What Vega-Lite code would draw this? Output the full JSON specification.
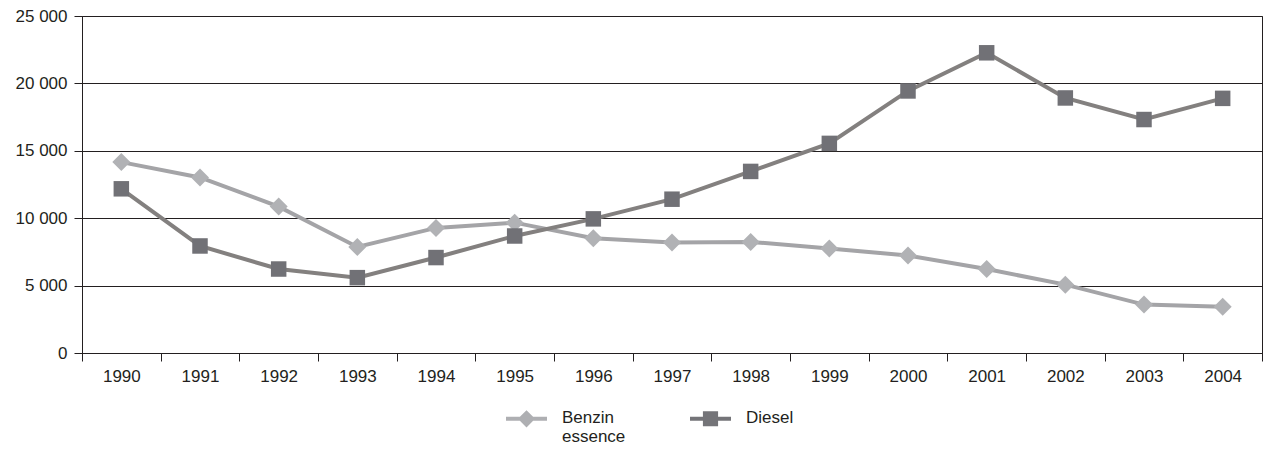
{
  "$schema": "https://vega.github.io/schema/vega-lite/v6.json",
  "width": 1180,
  "height": 337,
  "autosize": "none",
  "padding": {"left": 82, "top": 16, "right": 5, "bottom": 102},
  "background": "white",
  "config": {
    "font": "Liberation Sans",
    "view": {"stroke": "#231f20", "strokeWidth": 1}
  },
  "data": {
    "values": [
      {"year": "1990", "series": "Benzin essence", "value": 14160},
      {"year": "1991", "series": "Benzin essence", "value": 13020},
      {"year": "1992", "series": "Benzin essence", "value": 10860},
      {"year": "1993", "series": "Benzin essence", "value": 7870},
      {"year": "1994", "series": "Benzin essence", "value": 9280},
      {"year": "1995", "series": "Benzin essence", "value": 9670},
      {"year": "1996", "series": "Benzin essence", "value": 8510},
      {"year": "1997", "series": "Benzin essence", "value": 8200},
      {"year": "1998", "series": "Benzin essence", "value": 8240},
      {"year": "1999", "series": "Benzin essence", "value": 7760},
      {"year": "2000", "series": "Benzin essence", "value": 7230},
      {"year": "2001", "series": "Benzin essence", "value": 6230},
      {"year": "2002", "series": "Benzin essence", "value": 5070},
      {"year": "2003", "series": "Benzin essence", "value": 3590},
      {"year": "2004", "series": "Benzin essence", "value": 3440},
      {"year": "1990", "series": "Diesel", "value": 12180},
      {"year": "1991", "series": "Diesel", "value": 7940},
      {"year": "1992", "series": "Diesel", "value": 6230},
      {"year": "1993", "series": "Diesel", "value": 5590},
      {"year": "1994", "series": "Diesel", "value": 7080},
      {"year": "1995", "series": "Diesel", "value": 8680},
      {"year": "1996", "series": "Diesel", "value": 9950},
      {"year": "1997", "series": "Diesel", "value": 11410},
      {"year": "1998", "series": "Diesel", "value": 13470},
      {"year": "1999", "series": "Diesel", "value": 15550},
      {"year": "2000", "series": "Diesel", "value": 19440},
      {"year": "2001", "series": "Diesel", "value": 22270},
      {"year": "2002", "series": "Diesel", "value": 18920},
      {"year": "2003", "series": "Diesel", "value": 17320},
      {"year": "2004", "series": "Diesel", "value": 18890}
    ]
  },
  "encoding": {
    "x": {
      "field": "year",
      "type": "ordinal",
      "bandPosition": 0.5,
      "scale": {"type": "band", "paddingInner": 0, "paddingOuter": 0},
      "axis": {
        "title": null,
        "tickBand": "extent",
        "labelAngle": 0,
        "labelFontSize": 17,
        "labelColor": "#231f20",
        "tickSize": 8,
        "tickColor": "#231f20",
        "domainColor": "#231f20",
        "labelPadding": 7,
        "grid": false
      }
    },
    "y": {
      "field": "value",
      "type": "quantitative",
      "scale": {"domain": [0, 25000], "nice": false},
      "axis": {
        "title": null,
        "values": [0, 5000, 10000, 15000, 20000, 25000],
        "labelExpr": "replace(format(datum.value, ','), ',', ' ')",
        "labelFontSize": 17,
        "labelColor": "#231f20",
        "labelPadding": 7,
        "tickSize": 8,
        "tickColor": "#231f20",
        "domainColor": "#231f20",
        "gridColor": "#231f20",
        "gridOpacity": 1,
        "gridWidth": 1
      }
    }
  },
  "layer": [
    {
      "mark": {"type": "line", "strokeWidth": 4},
      "encoding": {
        "color": {
          "field": "series",
          "type": "nominal",
          "scale": {"domain": ["Benzin essence", "Diesel"], "range": ["#a4a4a7", "#83807f"]},
          "legend": null
        }
      }
    },
    {
      "mark": {"type": "point", "filled": true, "opacity": 1},
      "encoding": {
        "color": {
          "field": "series",
          "type": "nominal",
          "scale": {"domain": ["Benzin essence", "Diesel"], "range": ["#b1b2b5", "#717176"]},
          "legend": null
        },
        "shape": {
          "field": "series",
          "type": "nominal",
          "scale": {"domain": ["Benzin essence", "Diesel"], "range": ["diamond", "square"]},
          "legend": null
        },
        "size": {
          "field": "series",
          "type": "nominal",
          "scale": {"domain": ["Benzin essence", "Diesel"], "range": [324, 240]},
          "legend": null
        }
      }
    },
    {
      "transform": [{"filter": "false"}],
      "mark": {"type": "point", "filled": true, "opacity": 1},
      "encoding": {
        "color": {
          "field": "series",
          "type": "nominal",
          "scale": {"domain": ["Benzin essence", "Diesel"], "range": ["#aeafb2", "#747478"]},
          "legend": {
            "title": null,
            "orient": "none",
            "legendX": 424,
            "legendY": 373,
            "direction": "horizontal",
            "symbolSize": 1681,
            "symbolStrokeWidth": 0,
            "labelFontSize": 17,
            "labelColor": "#231f20",
            "labelOffset": 15,
            "columnPadding": 64,
            "labelBaseline": "top",
            "labelExpr": "datum.label == 'Benzin essence' ? ['Benzin', 'essence'] : [datum.label, '']"
          }
        },
        "shape": {
          "field": "series",
          "type": "nominal",
          "scale": {
            "domain": ["Benzin essence", "Diesel"],
            "range": [
              "M-1,0.34H1V0.54H-1Z M0,0.02L0.42,0.44L0,0.86L-0.42,0.44Z",
              "M-1,0.34H1V0.54H-1Z M-0.37,0.07H0.37V0.81H-0.37Z"
            ]
          },
          "legend": {
            "title": null,
            "orient": "none",
            "legendX": 424,
            "legendY": 373,
            "direction": "horizontal",
            "symbolSize": 1681,
            "symbolStrokeWidth": 0,
            "labelFontSize": 17,
            "labelColor": "#231f20",
            "labelOffset": 15,
            "columnPadding": 64,
            "labelBaseline": "top",
            "labelExpr": "datum.label == 'Benzin essence' ? ['Benzin', 'essence'] : [datum.label, '']"
          }
        }
      }
    }
  ],
  "resolve": {"scale": {"color": "independent", "shape": "independent"}}
}
